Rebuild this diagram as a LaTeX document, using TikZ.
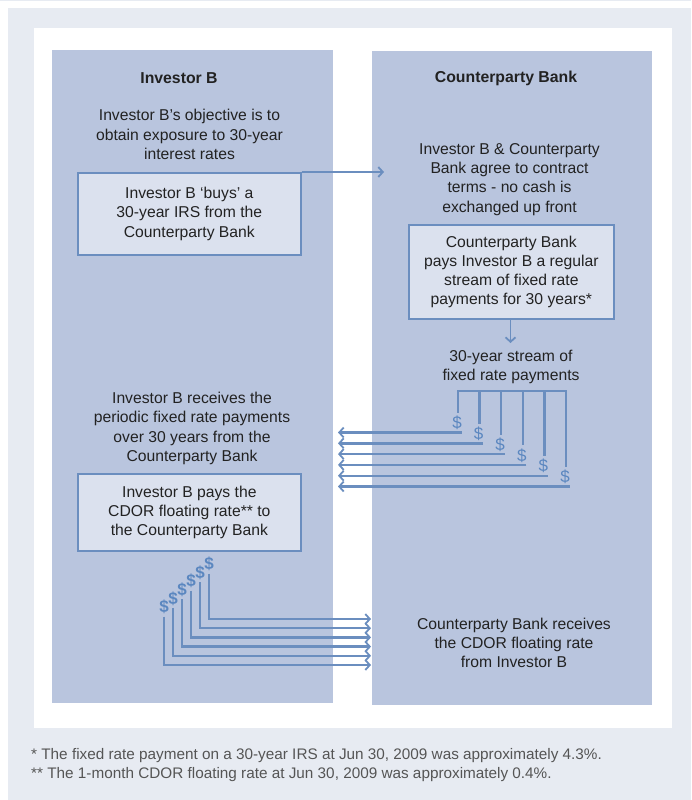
\documentclass[tikz,border=0pt]{standalone}
\usepackage{fontspec}
\setmainfont{Liberation Sans}
\usetikzlibrary{arrows.meta}
\definecolor{bgc}{HTML}{E7EBF2}
\definecolor{colc}{HTML}{B9C5DE}
\definecolor{boxc}{HTML}{DBE1EE}
\definecolor{linec}{HTML}{6B8EBF}
\definecolor{dolc}{HTML}{5B87C0}
\definecolor{txt}{HTML}{222222}
\definecolor{foot}{HTML}{555555}
\begin{document}
\begin{tikzpicture}[x=1pt,y=-1pt,
  column/.style={fill=colc, draw=none, inner sep=0pt, anchor=north west},
  body/.style={text=txt, align=center, inner sep=0pt, font=\fontsize{15.7}{19.2}\selectfont},
  head/.style={body, font=\fontsize{15.8}{19.2}\selectfont\bfseries},
  stepbox/.style={body, fill=boxc, draw=linec, line width=1.7pt, anchor=north west},
  pay/.style={draw=linec, line width=2.4pt},
  payarrow/.style={pay, -{Straight Barb[length=4.5pt,width=10pt,line width=1.8pt]}},
  dol/.style={text=dolc, inner sep=0pt, font=\fontsize{17}{17}\selectfont},
  dolb/.style={dol, font=\fontsize{17}{17}\selectfont\bfseries},
  footn/.style={text=foot, anchor=west, inner sep=0pt, font=\fontsize{15.3}{17}\selectfont}
]
\useasboundingbox (0,0) rectangle (691,800);
\fill[bgc] (0,0) rectangle (691,1.2);
\fill[bgc] (8,8) rectangle (691,800);
\fill[white] (34,28) rectangle (672,728);

\node[column, minimum width=281pt, minimum height=653pt] (colL) at (52,50) {};
\node[column, minimum width=280pt, minimum height=654pt] (colR) at (372,51) {};

\node[head] (hL) at (179,78) {Investor B};
\node[head] (hR) at (506,78) {Counterparty Bank};

\node[body] (obj) at (189.5,134.5) {Investor B’s objective is to\\obtain exposure to 30-year\\interest rates};
\node[stepbox, minimum width=223pt, minimum height=82pt] (box1) at (77,172) {Investor B ‘buys’ a\\30-year IRS from the\\Counterparty Bank};

\node[body] (agree) at (509.5,179.5) {Investor B \& Counterparty\\Bank agree to contract\\terms - no cash is\\exchanged up front};
\node[stepbox, minimum width=205pt, minimum height=94pt] (box2) at (408,224) {Counterparty Bank\\pays Investor B a regular\\stream of fixed rate\\payments for 30 years*};

\node[body] (stream) at (511,367) {30-year stream of\\fixed rate payments};

\node[body] (recv) at (192,428.5) {Investor B receives the\\periodic fixed rate payments\\over 30 years from the\\Counterparty Bank};
\node[stepbox, minimum width=223pt, minimum height=77pt] (box3) at (77,473) {Investor B pays the\\CDOR floating rate** to\\the Counterparty Bank};

\node[body] (brecv) at (514,643) {Counterparty Bank receives\\the CDOR floating rate\\from Investor B};

% arrow from box1 to the bank column
\coordinate (agreeIn) at (384,172);
\draw[payarrow, line width=1.8pt] (box1.north east) -- (agreeIn);

% arrow from box2 down to stream
\coordinate (streamIn) at (510.5,343);
\draw[payarrow, line width=1.8pt] (box2.south -| streamIn) -- (streamIn);

% fixed payments
\coordinate (fixEnd) at (338,0);
\coordinate (brL) at (457,391);
\coordinate (brR) at (567,391);
\draw[pay] (brL) -- (brR);
\foreach \i in {0,...,5}{
  \pgfmathsetmacro{\xx}{458+21.6*\i}
  \pgfmathsetmacro{\yd}{423+10.8*\i}
  \coordinate (ft\i) at (\xx,390);
  \node[dol] (fd\i) at (\xx-1,\yd) {\$};
  \coordinate (fv\i) at (\xx,\yd-10);
  \coordinate (fh\i) at (\xx+3.5,\yd+9.5);
  \draw[pay] (ft\i) -- (fv\i);
  \draw[payarrow] (fh\i) -- (fh\i -| fixEnd);
}

% floating payments
\coordinate (flEnd) at (371,0);
\foreach \j in {0,...,5}{
  \pgfmathsetmacro{\xx}{164+9*\j}
  \pgfmathsetmacro{\yd}{607-8.6*\j}
  \pgfmathsetmacro{\yh}{665-9.2*\j}
  \node[dolb] (gd\j) at (\xx,\yd) {\$};
  \coordinate (gv\j) at (\xx,\yd+9.5);
  \coordinate (gc\j) at (\xx,\yh);
  \draw[payarrow] (gv\j) -- (gc\j) -- (gc\j -| flEnd);
}

\node[footn] (f1) at (31,756) {* The fixed rate payment on a 30-year IRS at Jun 30, 2009 was approximately 4.3\%.};
\node[footn] (f2) at (31,774.5) {** The 1-month CDOR floating rate at Jun 30, 2009 was approximately 0.4\%.};
\end{tikzpicture}
\end{document}
